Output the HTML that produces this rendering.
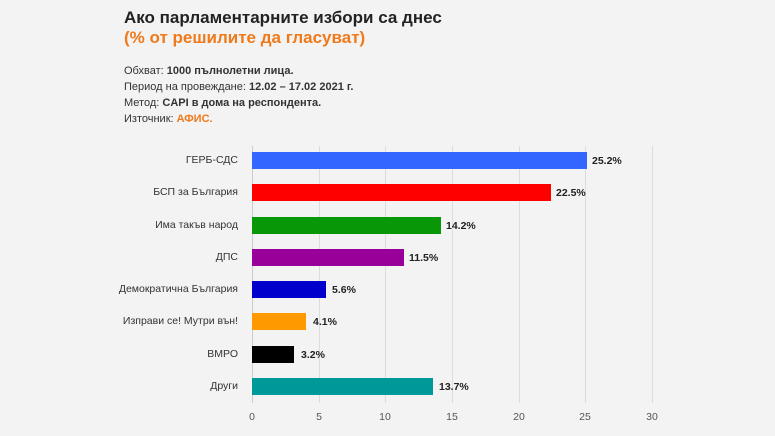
<!DOCTYPE html>
<html><head><meta charset="utf-8"><style>
body{margin:0;width:775px;height:436px;background:#f3f3f3;font-family:"Liberation Sans",sans-serif;position:relative;overflow:hidden}
.t{position:absolute;white-space:nowrap}
.g{position:absolute;top:146px;height:257px;width:1px;background:#dcdcdc}
.bar{position:absolute;height:17px;left:252px}
.lab{position:absolute;right:537px;font-size:10.5px;color:#333;text-align:right;white-space:nowrap}
.val{position:absolute;font-size:10.5px;font-weight:bold;color:#222}
.tk{position:absolute;top:411px;font-size:10.5px;color:#555;width:30px;text-align:center}
</style></head><body>
<div class="t" style="left:124px;top:8px;font-size:17px;font-weight:bold;color:#222">Ако парламентарните избори са днес</div>
<div class="t" style="left:124px;top:28px;font-size:17px;font-weight:bold;color:#f07a1a">(% от решилите да гласуват)</div>
<div class="t" style="left:124px;top:63px;font-size:11px;color:#333;line-height:16px">Обхват: <b>1000 пълнолетни лица.</b><br>Период на провеждане: <b>12.02 – 17.02 2021 г.</b><br>Метод: <b>CAPI в дома на респондента.</b><br>Източник: <b style="color:#f07a1a">АФИС.</b></div>
<div class="g" style="left:252px;background:#ccc"></div>
<div class="g" style="left:319px"></div>
<div class="g" style="left:385px"></div>
<div class="g" style="left:452px"></div>
<div class="g" style="left:519px"></div>
<div class="g" style="left:585px"></div>
<div class="g" style="left:652px"></div>

<div class="lab" style="top:154px">ГЕРБ-СДС</div>
<div class="bar" style="top:152px;width:335px;background:#3366ff"></div>
<div class="val" style="left:592px;top:155px">25.2%</div>

<div class="lab" style="top:186px">БСП за България</div>
<div class="bar" style="top:184px;width:299px;background:#ff0000"></div>
<div class="val" style="left:556px;top:187px">22.5%</div>

<div class="lab" style="top:219px">Има такъв народ</div>
<div class="bar" style="top:217px;width:189px;background:#079707"></div>
<div class="val" style="left:446px;top:220px">14.2%</div>

<div class="lab" style="top:251px">ДПС</div>
<div class="bar" style="top:249px;width:152px;background:#990099"></div>
<div class="val" style="left:409px;top:252px">11.5%</div>

<div class="lab" style="top:283px">Демократична България</div>
<div class="bar" style="top:281px;width:74px;background:#0000cc"></div>
<div class="val" style="left:332px;top:284px">5.6%</div>

<div class="lab" style="top:315px">Изправи се! Мутри вън!</div>
<div class="bar" style="top:313px;width:54px;background:#ff9900"></div>
<div class="val" style="left:313px;top:316px">4.1%</div>

<div class="lab" style="top:348px">ВМРО</div>
<div class="bar" style="top:346px;width:42px;background:#000"></div>
<div class="val" style="left:301px;top:349px">3.2%</div>

<div class="lab" style="top:380px">Други</div>
<div class="bar" style="top:378px;width:181px;background:#009999"></div>
<div class="val" style="left:439px;top:381px">13.7%</div>

<div class="tk" style="left:237px">0</div>
<div class="tk" style="left:304px">5</div>
<div class="tk" style="left:370px">10</div>
<div class="tk" style="left:437px">15</div>
<div class="tk" style="left:504px">20</div>
<div class="tk" style="left:570px">25</div>
<div class="tk" style="left:637px">30</div>
</body></html>
